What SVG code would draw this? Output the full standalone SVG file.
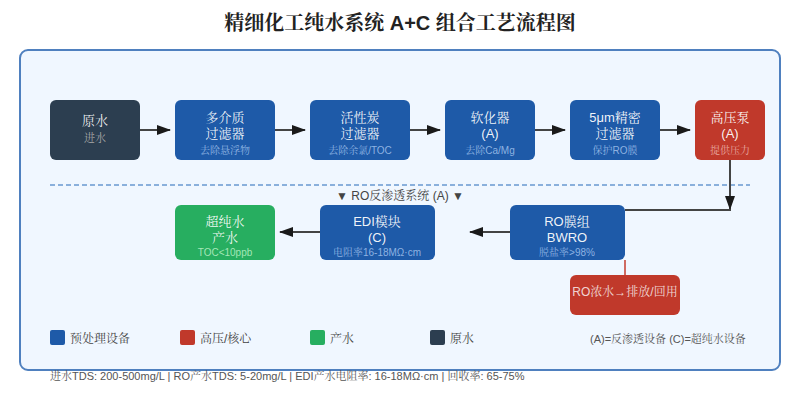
<svg xmlns="http://www.w3.org/2000/svg" width="800" height="400" viewBox="0 0 800 400">
<style>
text{font-family:"Liberation Sans","Noto Serif CJK SC","AR PL UMing CN","Noto Sans CJK SC",sans-serif;text-anchor:middle;opacity:.995}
.t{font-size:13px;fill:#fff;fill-opacity:.95}
.s{font-size:10px}
.sb{fill:#8fb4e3}
.sr{fill:#e8a8a0}
.sg{fill:#a5e8b8}
.g{font-size:12px;fill:#444}
.l{fill:none;stroke:#444;stroke-width:2;marker-end:url(#a)}
.leg{text-anchor:start}
</style>
<defs><marker id="a" markerUnits="userSpaceOnUse" markerWidth="14" markerHeight="10" refX="13" refY="5" orient="auto"><polygon points="0 0,14 5,0 10" fill="#1a1a1a"/></marker></defs>
<rect width="800" height="400" fill="#fff"/>
<text x="400" y="30" font-size="20" font-weight="bold" fill="#222">精细化工纯水系统 A+C 组合工艺流程图</text>
<rect x="20" y="50" width="760" height="320" rx="8" fill="#f0f7ff" stroke="#4f80bf" stroke-width="2"/>
<line x1="50" y1="185" x2="750" y2="185" stroke="#8ab0dc" stroke-width="2" stroke-dasharray="5 3"/>
<text x="400" y="200" class="g" fill="#333">▼ RO反渗透系统 (A) ▼</text>
<g id="connectors">
<line class="l" x1="140" y1="130" x2="170" y2="130"/>
<line class="l" x1="275" y1="130" x2="305" y2="130"/>
<line class="l" x1="410" y1="130" x2="440" y2="130"/>
<line class="l" x1="535" y1="130" x2="565" y2="130"/>
<line class="l" x1="660" y1="130" x2="690" y2="130"/>
<path class="l" d="M730 160V209"/>
<path d="M625 210H731" fill="none" stroke="#444" stroke-width="2"/>
<line class="l" x1="510" y1="232" x2="470" y2="232"/>
<line class="l" x1="320" y1="232" x2="280" y2="232"/>
<line x1="625" y1="260" x2="625" y2="275" stroke="#cf6b62" stroke-width="2"/>
</g>
<g id="raw"><rect x="50" y="100" width="90" height="60" rx="6" fill="#2c3e50"/><text class="t" x="95" y="125">原水</text><text x="95" y="142" font-size="11" fill="#aaa">进水</text></g>
<g id="mmf"><rect x="175" y="100" width="100" height="60" rx="6" fill="#1e5aa8"/><text class="t" x="225" y="122">多介质</text><text class="t" x="225" y="138">过滤器</text><text class="s sb" x="225" y="154">去除悬浮物</text></g>
<g id="carbon"><rect x="310" y="100" width="100" height="60" rx="6" fill="#1e5aa8"/><text class="t" x="360" y="122">活性炭</text><text class="t" x="360" y="138">过滤器</text><text class="s sb" x="360" y="154">去除余氯/TOC</text></g>
<g id="softener"><rect x="445" y="100" width="90" height="60" rx="6" fill="#1e5aa8"/><text class="t" x="490" y="122">软化器</text><text class="t" x="490" y="138">(A)</text><text class="s sb" x="490" y="154">去除Ca/Mg</text></g>
<g id="micron"><rect x="570" y="100" width="90" height="60" rx="6" fill="#1e5aa8"/><text class="t" x="615" y="122">5μm精密</text><text class="t" x="615" y="138">过滤器</text><text class="s sb" x="615" y="154">保护RO膜</text></g>
<g id="pump"><rect x="695" y="100" width="70" height="60" rx="6" fill="#c0392b"/><text class="t" x="730" y="122">高压泵</text><text class="t" x="730" y="138">(A)</text><text class="s sr" x="730" y="154">提供压力</text></g>
<g id="ro"><rect x="510" y="205" width="115" height="55" rx="6" fill="#1e5aa8"/><text class="t" x="567" y="226">RO膜组</text><text class="t" x="567" y="242">BWRO</text><text class="s sb" x="567" y="256">脱盐率&gt;98%</text></g>
<g id="edi"><rect x="320" y="205" width="115" height="55" rx="6" fill="#1e5aa8"/><text class="t" x="377" y="226">EDI模块</text><text class="t" x="377" y="242">(C)</text><text class="s sb" x="377" y="256">电阻率16-18MΩ·cm</text></g>
<g id="product"><rect x="175" y="205" width="100" height="55" rx="6" fill="#27ae60"/><text class="t" x="225" y="226">超纯水</text><text class="t" x="225" y="242">产水</text><text class="s sg" x="225" y="256">TOC&lt;10ppb</text></g>
<g id="concentrate"><rect x="570" y="275" width="110" height="40" rx="6" fill="#c0392b"/><text x="625" y="296" style="font-size:12px;fill:#fff;fill-opacity:.8">RO浓水→排放/回用</text></g>
<g id="legend">
<rect x="50" y="330" width="15" height="15" rx="2" fill="#1e5aa8"/><text class="g leg" x="70" y="343">预处理设备</text>
<rect x="180" y="330" width="15" height="15" rx="2" fill="#c0392b"/><text class="g leg" x="200" y="343">高压/核心</text>
<rect x="310" y="330" width="15" height="15" rx="2" fill="#27ae60"/><text class="g leg" x="330" y="343">产水</text>
<rect x="430" y="330" width="15" height="15" rx="2" fill="#2c3e50"/><text class="g leg" x="450" y="343">原水</text>
<text class="leg" x="590" y="343" font-size="11" fill="#555">(A)=反渗透设备 (C)=超纯水设备</text>
</g>
<text class="leg" x="50" y="380" font-size="11" fill="#555">进水TDS: 200-500mg/L | RO产水TDS: 5-20mg/L | EDI产水电阻率: 16-18MΩ·cm | 回收率: 65-75%</text>
</svg>
